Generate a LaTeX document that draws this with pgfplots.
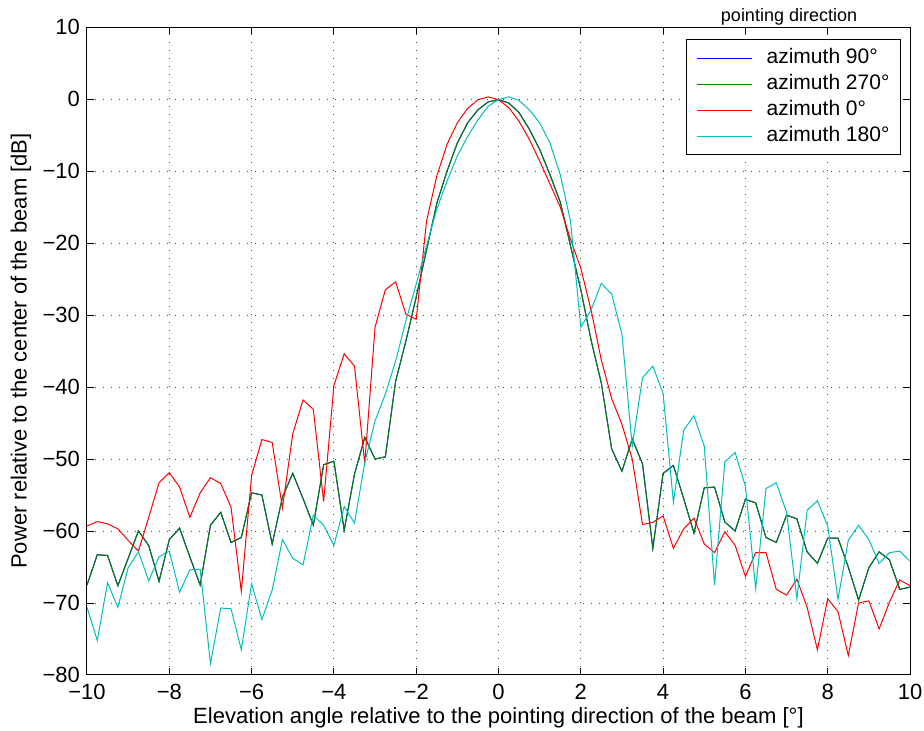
\documentclass[border=0pt]{standalone}
\usepackage{pgfplots}
\usepackage{pgfplotstable}
\pgfplotsset{compat=1.18}
\usepackage{fontspec}
\setmainfont{Liberation Sans}
\definecolor{mblue}{rgb}{0,0,1}
\definecolor{mgreen}{rgb}{0,0.5,0}
\definecolor{mred}{rgb}{1,0,0}
\definecolor{mcyan}{rgb}{0,0.75,0.75}
\pgfplotstableread{
x g r c
-10 -67.5 -59.3 -70.6
-9.75 -63.3 -58.7 -75.2
-9.5 -63.4 -59.0 -67.2
-9.25 -67.6 -59.7 -70.6
-9.0 -63.8 -61.3 -65.1
-8.75 -60.0 -62.8 -62.9
-8.5 -62.0 -58.1 -66.9
-8.25 -67.0 -53.3 -63.6
-8.0 -61.2 -51.9 -62.8
-7.75 -59.6 -53.9 -68.5
-7.5 -63.6 -58.1 -65.4
-7.25 -67.5 -54.7 -65.3
-7.0 -59.2 -52.6 -78.4
-6.75 -57.4 -53.4 -70.7
-6.5 -61.6 -56.7 -70.8
-6.25 -60.9 -68.4 -76.5
-6.0 -54.7 -52.3 -67.3
-5.75 -55.0 -47.3 -72.3
-5.5 -61.8 -47.7 -68.2
-5.25 -55.3 -56.8 -61.2
-5.0 -52.0 -46.5 -63.8
-4.75 -55.5 -41.8 -64.7
-4.5 -59.2 -43.1 -57.8
-4.25 -50.8 -55.9 -59.2
-4.0 -50.3 -39.8 -62.0
-3.75 -59.9 -35.4 -56.6
-3.5 -52.1 -37.1 -58.9
-3.25 -47.0 -50.6 -50.5
-3.0 -50.0 -31.7 -44.7
-2.75 -49.7 -26.5 -41.0
-2.5 -39.2 -25.4 -36.4
-2.25 -33.6 -29.9 -30.8
-2.0 -27.5 -30.6 -25.7
-1.75 -21.0 -17.0 -20.4
-1.5 -14.5 -10.7 -15.3
-1.25 -10.0 -6.3 -11.4
-1.0 -6.1 -3.3 -7.9
-0.75 -3.3 -1.3 -5.2
-0.5 -1.5 -0.1 -2.9
-0.25 -0.4 0.3 -1.0
0 -0.1 -0.1 -0.1
0.25 -0.55 -1.2 0.3
0.5 -1.9 -3.1 -0.2
0.75 -4.2 -5.6 -1.5
1.0 -7.0 -8.6 -3.3
1.25 -10.5 -11.8 -6.1
1.5 -14.3 -15.0 -10.5
1.75 -20.4 -19.5 -17.0
2.0 -26.5 -23.5 -31.7
2.25 -33.5 -29.3 -29.3
2.5 -39.5 -36.3 -25.6
2.75 -48.6 -41.6 -27.1
3.0 -51.7 -45.2 -32.7
3.25 -47.2 -50.0 -48.2
3.5 -50.7 -59.1 -38.7
3.75 -62.4 -58.8 -37.1
4.0 -52.0 -57.9 -40.9
4.25 -50.9 -62.4 -56.0
4.5 -55.5 -59.7 -46.0
4.75 -60.3 -58.2 -44.0
5.0 -54.0 -61.8 -48.2
5.25 -53.9 -63.0 -67.5
5.5 -58.75 -60.1 -50.4
5.75 -60.0 -62.0 -49.1
6.0 -55.6 -66.3 -53.8
6.25 -56.1 -63.0 -68.0
6.5 -60.9 -63.0 -54.1
6.75 -61.6 -68.1 -53.3
7.0 -57.8 -68.9 -57.4
7.25 -58.3 -66.7 -69.4
7.5 -62.9 -70.6 -57.1
7.75 -64.5 -76.5 -55.8
8.0 -61.0 -69.4 -59.3
8.25 -61.0 -71.2 -69.5
8.5 -65.0 -77.3 -61.3
8.75 -69.6 -70.0 -59.2
9.0 -65.1 -69.7 -61.2
9.25 -62.9 -73.6 -64.5
9.5 -64.0 -69.9 -63.0
9.75 -68.1 -66.8 -62.8
10 -67.8 -67.6 -64.2
}\datatable
\begin{document}
\begin{tikzpicture}
\path[use as bounding box] (-43.5pt,-28pt) rectangle (418.5pt,337.5pt);
\begin{axis}[
  at={(0pt,0pt)}, anchor=south west,
  width=411.5pt, height=324pt, scale only axis,
  xmin=-10, xmax=10, ymin=-80, ymax=10,
  xtick={-10,-8,...,10},
  xticklabels={−10,−8,−6,−4,−2,0,2,4,6,8,10},
  ytick={-80,-70,...,10},
  yticklabels={−80,−70,−60,−50,−40,−30,−20,−10,0,10},
  tick align=inside, major tick length=3.5pt,
  tick style={black, line width=0.5pt},
  axis line style={line width=0.5pt},
  grid=major,
  major grid style={black!70, line width=0.5pt, dash pattern=on 0.5pt off 3.5pt},
  ticklabel style={font=\fontsize{11}{13}\selectfont},
  xticklabel style={yshift=-1pt},
  label style={font=\fontsize{11}{13}\selectfont},
  xlabel={Elevation angle relative to the pointing direction of the beam [°]},
  ylabel={Power relative to the center of the beam [dB]},
  xlabel style={at={(axis description cs:0.5,-0.0664)}, anchor=center},
  ylabel style={at={(axis description cs:-0.0802,0.5)}, anchor=center},
  title={pointing direction},
  title style={at={(axis description cs:0.853,1)}, anchor=base, yshift=-3pt,
    inner sep=0pt, font=\fontsize{9}{10}\selectfont},
  legend style={at={(0.989,0.981)}, anchor=north east, draw=black, line width=0.5pt,
    fill=white, font=\fontsize{10.5}{12}\selectfont, inner xsep=4pt, inner ysep=2.75pt,
    cells={anchor=west},
    nodes={inner sep=1.5pt, text height=7.5pt, text depth=2.5pt}},
  legend image code/.code={\path[draw=none] (-1pt,0pt) -- (33.5pt,0pt);\draw[#1] (0pt,0pt) -- (27.5pt,0pt);},
  every axis plot/.append style={line width=0.5pt},
]
\addplot[color=mblue] table[x=x, y=g] {\datatable};
\addlegendentry{azimuth 90°}
\addplot[color=mgreen] table[x=x, y=g] {\datatable};
\addlegendentry{azimuth 270°}
\addplot[color=mred] table[x=x, y=r] {\datatable};
\addlegendentry{azimuth 0°}
\addplot[color=mcyan] table[x=x, y=c] {\datatable};
\addlegendentry{azimuth 180°}
\end{axis}
\end{tikzpicture}
\end{document}
